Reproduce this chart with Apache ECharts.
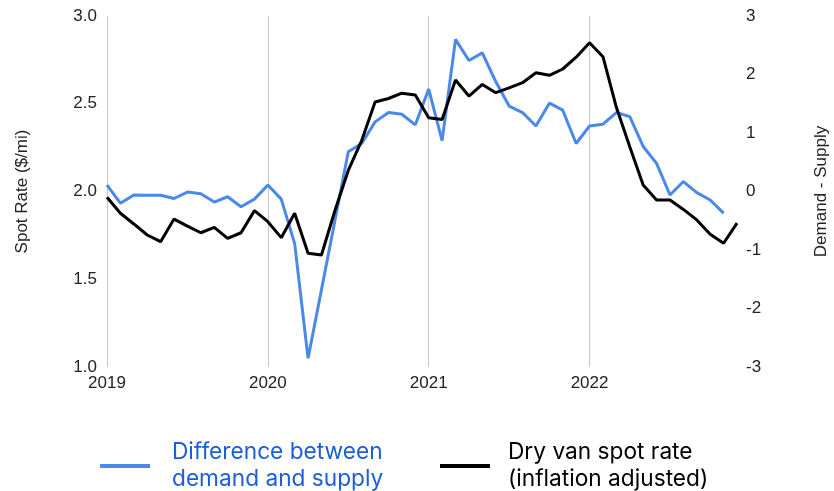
<!DOCTYPE html>
<html>
<head>
<meta charset="utf-8">
<script src="https://cdn.jsdelivr.net/npm/echarts@6/dist/echarts.min.js"></script>
<style>
  html, body { margin: 0; padding: 0; background: #fff; }
  #chart { width: 834px; height: 491px; }
</style>
</head>
<body>
<div id="chart"></div>
<script>
// months Jan 2019 .. Dec 2022
var months = [];
['2019', '2020', '2021', '2022'].forEach(function (y) {
    for (var m = 1; m <= 12; m++) {
        months.push(y + '-' + (m < 10 ? '0' + m : m));
    }
});

// dry van spot rate, inflation adjusted ($/mi) - left axis
var spotRate = [
    1.967, 1.876, 1.815, 1.752, 1.714, 1.843, 1.803, 1.765, 1.796, 1.733, 1.765, 1.891,
    1.828, 1.737, 1.876, 1.648, 1.638, 1.890, 2.120, 2.290, 2.510, 2.530, 2.560, 2.550,
    2.420, 2.410, 2.635, 2.544, 2.610, 2.563, 2.590, 2.620, 2.677, 2.662, 2.698, 2.765,
    2.848, 2.768, 2.480, 2.255, 2.037, 1.952, 1.952, 1.898, 1.838, 1.756, 1.705, 1.820
];

// demand - supply - right axis
var diffDS = [
    0.11, -0.20, -0.06, -0.065, -0.065, -0.12, -0.01, -0.04, -0.18, -0.09, -0.26, -0.13,
    0.11, -0.13, -0.89, -2.85, -1.68, -0.50, 0.68, 0.82, 1.19, 1.35, 1.32, 1.14,
    1.75, 0.87, 2.60, 2.24, 2.37, 1.88, 1.46, 1.35, 1.12, 1.51, 1.39, 0.82,
    1.12, 1.15, 1.35, 1.28, 0.77, 0.48, -0.06, 0.17, -0.02, -0.145, -0.37, null
];

var blueName = 'Difference between\ndemand and supply';
var blackName = 'Dry van spot rate\n(inflation adjusted)';

var arial = "'Liberation Sans', Arial, sans-serif";
var legendFont = "Inter, 'Noto Sans', sans-serif";

var chart = echarts.init(document.getElementById('chart'), null, { renderer: 'canvas' });

chart.setOption({
    animation: false,
    backgroundColor: '#fff',
    grid: { left: 107, right: 97, top: 16, bottom: 124, containLabel: false, outerBoundsMode: 'none' },
    legend: [
        {
            data: [blueName],
            left: 100, top: 439,
            padding: 0,
            icon: 'rect', itemWidth: 50, itemHeight: 4,
            textStyle: { fontFamily: legendFont, fontSize: 22.7, lineHeight: 27, color: '#1b5fd6', padding: [0, 0, 0, 17] }
        },
        {
            data: [blackName],
            left: 440, top: 439,
            padding: 0,
            icon: 'rect', itemWidth: 50, itemHeight: 4,
            textStyle: { fontFamily: legendFont, fontSize: 22.7, lineHeight: 27, color: '#000', padding: [0, 0, 0, 13] }
        }
    ],
    xAxis: {
        type: 'category',
        data: months,
        boundaryGap: false,
        axisLine: { show: false },
        axisTick: { show: false },
        axisLabel: {
            interval: 11,
            margin: 8,
            formatter: function (v) { return v.slice(0, 4); },
            fontFamily: arial, fontSize: 17, color: '#222'
        },
        splitLine: { show: true, interval: 11, lineStyle: { color: '#c8c8c8', width: 1 } }
    },
    yAxis: [
        {
            type: 'value',
            min: 1, max: 3, interval: 0.5,
            name: 'Spot Rate ($/mi)',
            nameLocation: 'middle',
            nameGap: 76,
            nameRotate: 90,
            nameTextStyle: { fontFamily: arial, fontSize: 17, color: '#222' },
            axisLine: { show: false },
            axisTick: { show: false },
            splitLine: { show: false },
            axisLabel: {
                margin: 10,
                formatter: function (v) { return v.toFixed(1); },
                fontFamily: arial, fontSize: 17, color: '#222'
            }
        },
        {
            type: 'value',
            min: -3, max: 3, interval: 1,
            name: 'Demand - Supply',
            nameLocation: 'middle',
            nameGap: 76,
            nameRotate: 90,
            nameTextStyle: { fontFamily: arial, fontSize: 17, color: '#222' },
            axisLine: { show: false },
            axisTick: { show: false },
            splitLine: { show: false },
            axisLabel: {
                margin: 9,
                fontFamily: arial, fontSize: 17, color: '#222'
            }
        }
    ],
    series: [
        {
            name: blueName,
            type: 'line',
            yAxisIndex: 1,
            data: diffDS,
            showSymbol: false,
            connectNulls: false,
            lineStyle: { color: '#4a89e8', width: 3 },
            itemStyle: { color: '#4a89e8' }
        },
        {
            name: blackName,
            type: 'line',
            yAxisIndex: 0,
            data: spotRate,
            showSymbol: false,
            lineStyle: { color: '#000', width: 3 },
            itemStyle: { color: '#000' }
        }
    ]
});
</script>
</body>
</html>
